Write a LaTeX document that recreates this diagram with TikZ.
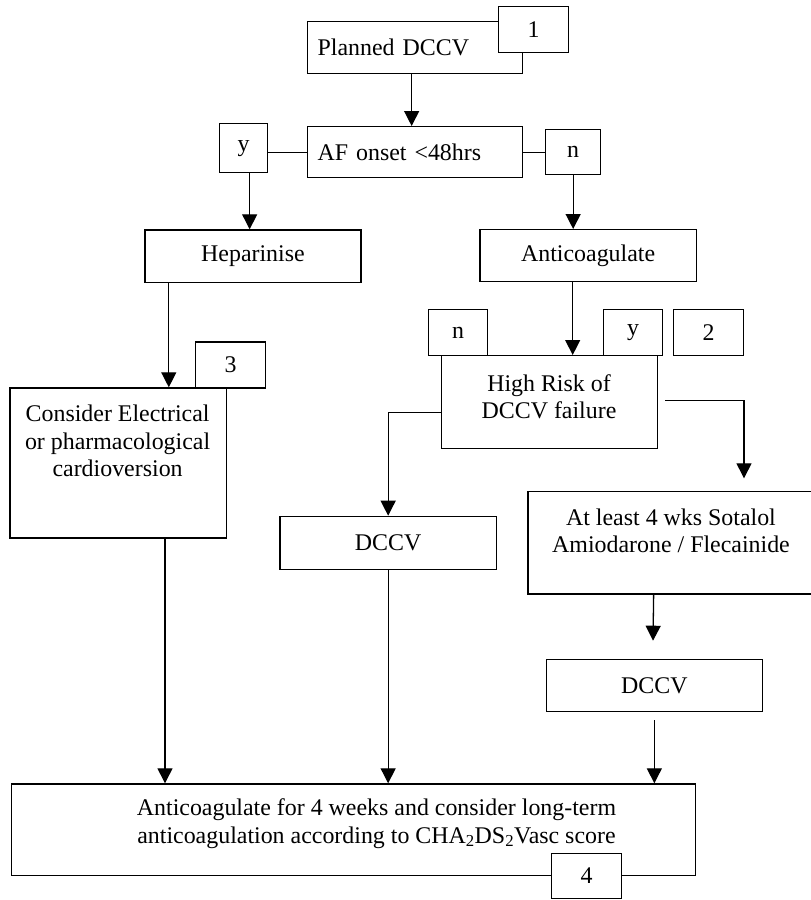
\documentclass[tikz,border=0pt]{standalone}
\usepackage{fontspec}
\setmainfont{Liberation Serif}
\usetikzlibrary{arrows.meta}
\newcommand\myfs{\fontsize{23.9}{27.5}\selectfont}
\begin{document}
\begin{tikzpicture}[x=1pt,y=-1pt,
  box/.style={draw, fill=white, line width=1.3pt, inner sep=0pt, anchor=north west, font=\myfs},
  sz/.style 2 args={minimum width=#1pt, minimum height=#2pt},
  txt/.style={inner sep=0pt, align=center, font=\myfs},
  arr/.style={line width=1.3pt, -{Triangle[length=15pt,width=15pt]}},
  ln/.style={line width=1.3pt}]
\useasboundingbox (0,0) rectangle (811,900);
\clip (0,0) rectangle (811,900);
% boxes
\node[box, sz={215}{52}, text width=195pt, inner xsep=10pt, align=left] (P) at (307,21) {Planned DCCV};
\node[box, sz={70}{46}] (b1) at (498,6) {1};
\node[box, sz={215}{51}, text width=195pt, inner xsep=10pt, align=left] (AF) at (307,126) {AF onset <48hrs};
\node[box, sz={48}{49}] (yb) at (219,123) {y};
\node[box, sz={55}{45}] (nb) at (545,129) {n};
\node[box, sz={216}{52.4}] (H) at (144.3,229.3) {Heparinise};
\node[box, sz={216.4}{52}] (A) at (479.3,229) {Anticoagulate};
\node[box, sz={216}{93}] (HR) at (441,355) {};
\node[txt] (HRt) at (549,397) {High Risk of\\DCCV failure};
\node[box, sz={59}{46}] (n2) at (428,309) {n};
\node[box, sz={59}{46}] (y2) at (603,309) {y};
\node[box, sz={70}{46}] (b2) at (673,309) {2};
\node[box, sz={216.7}{150}] (C) at (9.3,387.3) {};
\node[txt] (Ct) at (117.6,441) {Consider Electrical\\or pharmacological\\cardioversion};
\node[box, sz={70}{46}] (b3) at (195,341.3) {3};
\node[box, sz={216.4}{53.3}] (D1) at (279.3,515.7) {DCCV};
\node[box, sz={288}{102.6}] (S) at (527.3,490.7) {};
\node[txt] (St) at (671,531) {At least 4 wks Sotalol\\Amiodarone / Flecainide};
\node[box, sz={216}{52}] (D2) at (545.7,659) {DCCV};
\node[box, sz={684}{91.7}] (F) at (11,783.3) {};
\node[txt] (Ft) at (376.5,823.5) {Anticoagulate for 4 weeks and consider long-term\\anticoagulation according to CHA\textsubscript{2}DS\textsubscript{2}Vasc score};
\node[box, sz={70}{45}] (b4) at (551,852.7) {4};
% helper coordinates
\coordinate (p1) at ([xshift=-3.5pt]P.south);
\coordinate (y1) at ([xshift=6pt]yb.south);
\coordinate (h1) at ([xshift=24.5pt]H.south west);
\coordinate (a1) at ([xshift=93.4pt]A.south west);
\coordinate (r1) at ([xshift=7pt,yshift=1.5pt]HR.east);
\coordinate (sr) at (744,478.3);
\coordinate (l1) at ([yshift=-10.2pt]HR.west);
\coordinate (s1) at ([xshift=-0.7pt]S.south -| D2.south);
\coordinate (s2) at (653,640.7);
\coordinate (d2) at ([yshift=-8pt]D2.south);
\coordinate (c1) at ([xshift=155.7pt]C.south west);
% connectors
\draw[arr] (p1) -- (p1 |- AF.north);
\draw[ln] (yb.east |- AF.west) -- (AF.west);
\draw[ln] (AF.east) -- (AF.east -| nb.west);
\draw[arr] (y1) -- (y1 |- H.north);
\draw[arr] (nb.south) -- (nb.south |- A.north);
\draw[arr] (h1) -- (h1 |- C.north);
\draw[arr] (a1) -- (a1 |- HR.north);
\draw[arr] (l1) -| (D1.north);
\draw[arr] (r1) -| (sr);
\draw[arr] (s1) -- (s2);
\draw[arr] (D1.south) -- (D1.south |- F.north);
\draw[arr] (d2) -- (d2 |- F.north);
\draw[arr] (c1) -- (c1 |- F.north);
\end{tikzpicture}
\end{document}
